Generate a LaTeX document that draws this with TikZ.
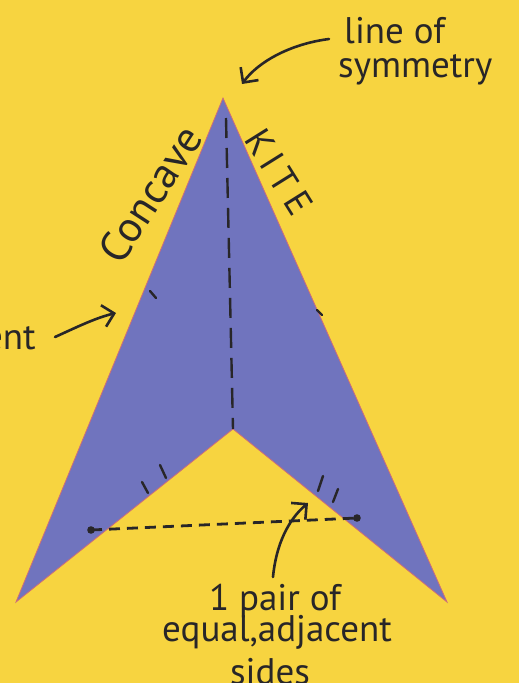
\documentclass[tikz,border=0pt]{standalone}
\usepackage{fontspec}
\setmainfont{PT Sans}
\usetikzlibrary{arrows.meta}
\definecolor{paper}{RGB}{247,212,64}
\definecolor{kitefill}{RGB}{112,116,190}
\definecolor{kiteedge}{RGB}{205,110,120}
\definecolor{ink}{RGB}{40,38,40}
\tikzset{
  hand/.style={text=ink, inner sep=0pt, font=\fontsize{37}{39}\selectfont},
  pen/.style={draw=ink, line width=2.6pt, line cap=round, line join=round},
  tick/.style={draw=ink, line width=2.4pt, line cap=round},
  dashline/.style={draw=ink, line width=2.8pt, dash pattern=on 11pt off 7pt},
  barb/.style={-{Straight Barb[length=11pt,width=22pt,line width=2.6pt]}},
}
\begin{document}
\begin{tikzpicture}[x=1pt,y=-1pt]
\fill[paper] (0,0) rectangle (519,683);
\useasboundingbox (0,0) rectangle (519,683);
% kite
\coordinate (A) at (223,98);
\coordinate (L) at (16,602);
\coordinate (R) at (447,602);
\coordinate (M) at (233,429);
\filldraw[fill=kitefill, draw=kiteedge, line width=0.8pt, line join=miter] (A) -- (L) -- (M) -- (R) -- cycle;
% line of symmetry
\draw[draw=ink, line width=2.4pt, dash pattern=on 20pt off 10pt] (226,118) -- (M);
% ticks
\draw[tick] (150,291) -- (156,298);
\draw[tick] (317,310) -- (322,315);
\draw[tick] (142,482) -- (148,493);
\draw[tick] (160,465) -- (166,478);
\draw[tick] (323,476) -- (318,491);
\draw[tick] (338,489) -- (333,502);
% horizontal dashed line with dots
\coordinate (P) at (91,530);
\coordinate (Q) at (357,518);
\draw[dashline] (P) -- (Q);
\fill[ink] (P) circle (3.8pt) (Q) circle (3.8pt);
% texts
\node[hand, anchor=west] (los1) at (344,31) {line of};
\node[hand, anchor=west] (los2) at (338,70) {symmetry};
\node[hand, font=\fontsize{43}{45}\selectfont, rotate=57] (conc) at (150,194) {Concave};
\node[hand, font=\fontsize{37}{39}\selectfont\addfontfeature{LetterSpace=18}, rotate=-58] (kite) at (279,172) {KITE};
\node[hand, anchor=west] (ent) at (-16,338) {ent};
\node[hand] (b1) at (275,601) {1 pair of};
\node[hand] (b2) at (277,632) {equal,adjacent};
\node[hand] (b3) at (270,672) {sides};
% arrows
\coordinate (t1) at (242,84);
\coordinate (t2) at (116,313);
\coordinate (t3) at (308,503);
\draw[pen, barb] (329,39) .. controls (290,44) and (258,62) .. (t1);
\draw[pen, barb] (55,337) .. controls (75,328) and (95,318) .. (t2);
\draw[pen, barb] (273,577) .. controls (276,545) and (288,520) .. (t3);
\end{tikzpicture}
\end{document}
